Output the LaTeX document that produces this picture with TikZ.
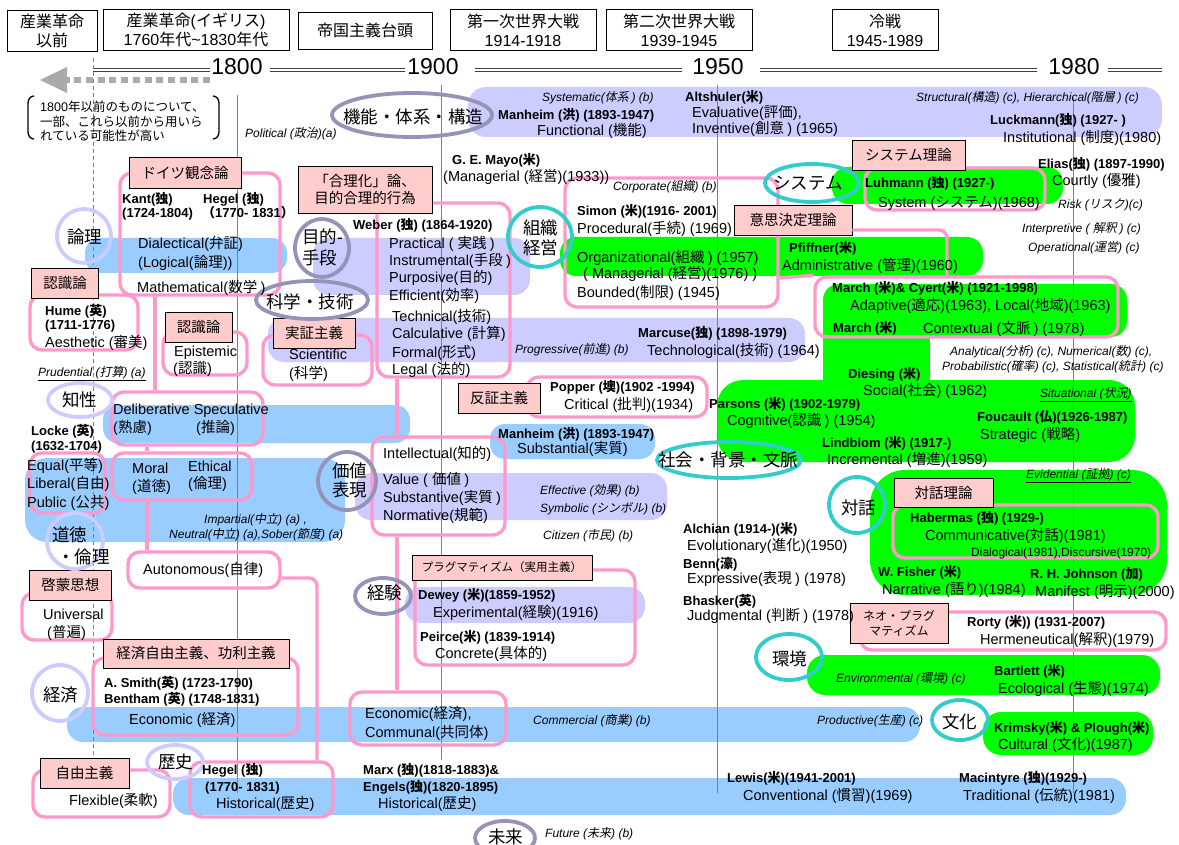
\documentclass[tikz,border=0pt]{standalone}
\usepackage{fontspec}
\setmainfont{Liberation Sans}
\newfontfamily\latinfam{Liberation Sans}
\newfontfamily\cjkfam{Noto Sans CJK JP}[ItalicFont={Noto Sans CJK JP},ItalicFeatures={FakeSlant=0.2}]
\XeTeXinterchartokenstate=1
\newXeTeXintercharclass\CJKcls
\newcount\cjkc
\newcommand\setcjkrange[2]{\cjkc=#1\relax\loop\XeTeXcharclass\cjkc=\CJKcls\relax\ifnum\cjkc<#2\relax\advance\cjkc by 1\relax\repeat}
\setcjkrange{"3000}{"30FF}
\setcjkrange{"4E00}{"9FFF}
\setcjkrange{"FF00}{"FFEF}
\XeTeXinterchartoks 0 \CJKcls = {\cjkfam}
\XeTeXinterchartoks 4095 \CJKcls = {\cjkfam}
\XeTeXinterchartoks \CJKcls 0 = {\latinfam}
\XeTeXinterchartoks 4095 0 = {\latinfam}

\definecolor{lav}{HTML}{CCCCFF}
\definecolor{lblue}{HTML}{99CCFF}
\definecolor{grn}{HTML}{00FF00}
\definecolor{pnk}{HTML}{FF99CC}
\definecolor{lpnk}{HTML}{FFCCCC}
\definecolor{ringA}{HTML}{CCCCFF}
\definecolor{ringB}{HTML}{9494B8}
\definecolor{ringC}{HTML}{33CCCC}
\definecolor{vgray}{HTML}{808080}
\definecolor{agray}{HTML}{AAAAAA}

\newcount\txcnt
\newcommand\tx[3]{\global\advance\txcnt by 1\relax\node[#1] (t\the\txcnt) at (#2) {#3};}

\tikzset{
  rg/.style={inner sep=0pt, anchor=base west, font=\fontsize{14.5}{17}\selectfont, yshift=-5.2pt},
  bd/.style={inner sep=0pt, anchor=base west, font=\fontsize{13}{15}\selectfont\bfseries, yshift=-4.7pt},
  it/.style={inner sep=0pt, anchor=base west, font=\fontsize{12}{14}\selectfont\itshape, yshift=-4.3pt},
  sm/.style={inner sep=0pt, anchor=base west, font=\fontsize{12}{14}\selectfont, yshift=-4.3pt},
  nt/.style={inner sep=0pt, anchor=base west, font=\fontsize{12.5}{14}\selectfont, yshift=-4.5pt},
  cl/.style={inner sep=0pt, anchor=base west, font=\fontsize{17.5}{21}\selectfont, yshift=-6.3pt},
  hdr/.style={draw=black, line width=0.8pt, fill=white, inner sep=0pt, align=center, font=\fontsize{16}{19}\selectfont},
  lab/.style={draw=black, line width=0.8pt, fill=lpnk, inner sep=0pt, align=center, font=\fontsize{14.5}{17}\selectfont},
  pb/.style={draw=pnk, line width=3.4pt, rounded corners=12pt, inner sep=0pt},
  pln/.style={draw=pnk, line width=3.4pt, rounded corners=8pt},
  rA/.style={draw=ringA, line width=3.8pt},
  rB/.style={draw=ringB, line width=3.8pt},
  rC/.style={draw=ringC, line width=3.8pt},
  vl/.style={draw=vgray, line width=0.9pt},
  dbl/.style={draw=black!75, double=white, double distance=1.6pt, line width=1pt},
  yr/.style={inner sep=0pt, font=\fontsize{23}{26}\selectfont},
}

\begin{document}
\begin{tikzpicture}[x=1pt,y=-1pt]
\useasboundingbox (0,0) rectangle (1179,845);
\fill[white] (0,0) rectangle (1179,845);

% ---------- bands ----------
\fill[lav, rounded corners=18pt] (468,87) rectangle (1162,137);
\fill[lav, rounded corners=16pt] (313,238) rectangle (530,295);
\fill[lav, rounded corners=16pt] (268,318) rectangle (805,362);
\fill[lav, rounded corners=16pt] (355,473) rectangle (667,520);
\fill[lav, rounded corners=16pt] (405,587) rectangle (645,623);
\fill[lblue, rounded corners=15pt] (85,238) rectangle (287,273);
\fill[lblue, rounded corners=15pt] (103,405) rectangle (410,443);
\fill[lblue, rounded corners=15pt] (490,424) rectangle (655,459);
\fill[lblue, rounded corners=22pt] (25,458) rectangle (345,542);
\fill[lblue, rounded corners=16pt] (67,707) rectangle (920,742);
\fill[lblue, rounded corners=16pt] (173,778) rectangle (1126,815);
\fill[grn, rounded corners=16pt] (832,167) rectangle (1063,204);
\fill[grn, rounded corners=16pt] (560,237) rectangle (983,276);
\fill[grn, rounded corners=16pt] (823,284) rectangle (1127,337);
\fill[grn] (823,300) rectangle (930,395);
\fill[grn, rounded corners=26pt] (717,380) rectangle (1135,462);
\fill[grn, rounded corners=35pt] (870,470) rectangle (1167,595);
\fill[grn, rounded corners=18pt] (807,655) rectangle (1160,695);
\fill[grn, rounded corners=18pt] (983,712) rectangle (1153,755);

% ---------- time axis ----------
\node[yr] (y1800) at (237,67) {1800};
\node[yr] (y1900) at (433,67) {1900};
\node[yr] (y1950) at (718,67) {1950};
\node[yr] (y1980) at (1074,67) {1980};
\draw[dbl] (93,70) -- (210,70);
\draw[dbl] (270,70) -- (405,70);
\draw[dbl] (475,70) -- (682,70);
\draw[dbl] (760,70) -- (1037,70);
\draw[dbl] (1108,70) -- (1162,70);
\draw[agray, line width=6.5pt, dash pattern=on 7pt off 4.7pt] (210,80) -- (66,80);
\fill[agray] (40,80) -- (67,67) -- (67,93) -- cycle;

\draw[vgray, line width=0.8pt, dash pattern=on 4pt off 3pt] (93,58) -- (93,757);
\draw[vl] (237,95) -- (237,793);
\draw[vl] (441,85) -- (441,760);
\draw[vl] (717,85) -- (717,793);
\draw[vl] (1073,98) -- (1073,793);

% ---------- headers ----------
\node[hdr, minimum width=90pt, minimum height=41pt] (h1) at (52,31) {産業革命\\以前};
\node[hdr, minimum width=186pt, minimum height=41pt] (h2) at (196,30) {産業革命(イギリス)\\1760年代\textasciitilde 1830年代};
\node[hdr, minimum width=134pt, minimum height=37pt] (h3) at (365,30.5) {帝国主義台頭};
\node[hdr, minimum width=146pt, minimum height=41pt] (h4) at (523,30) {第一次世界大戦\\1914-1918};
\node[hdr, minimum width=146pt, minimum height=41pt] (h5) at (679,30) {第二次世界大戦\\1939-1945};
\node[hdr, minimum width=106pt, minimum height=41pt] (h6) at (885,30) {冷戦\\1945-1989};

% note with brackets
\draw[line width=1.3pt] (34,96) to[out=180,in=90] (28,103) -- (28,132) to[out=-90,in=180] (34,139);
\draw[line width=1.3pt] (213,96) to[out=0,in=90] (219,103) -- (219,132) to[out=-90,in=0] (213,139);
\tx{nt}{40,107}{1800年以前のものについて、}
\tx{nt}{40,122}{一部、これら以前から用いら}
\tx{nt}{40,136}{れている可能性が高い}

% ---------- pink boxes ----------
\node[pb, minimum width=160pt, minimum height=122pt] (gbox) at (200,234) {};
\node[pb, minimum width=108pt, minimum height=55pt] (humebox) at (84,322.5) {};
\node[pb, minimum width=84pt, minimum height=43pt] (epibox) at (205,353.5) {};
\node[pb, minimum width=109pt, minimum height=50pt] (scibox) at (317.5,360) {};
\node[pb, minimum width=133pt, minimum height=174pt] (wbox) at (443.5,290) {};
\node[pb, minimum width=133pt, minimum height=98pt] (ibox) at (438.5,486) {};
\node[pb, minimum width=151pt, minimum height=53pt] (dbox) at (187.5,418.5) {};
\node[pb, minimum width=140pt, minimum height=47pt] (mbox) at (182,476.5) {};
\node[pb, minimum width=75pt, minimum height=60pt] (lkbox) at (67.5,483) {};
\node[pb, minimum width=152pt, minimum height=36pt] (abox) at (204,570) {};
\node[pb, minimum width=90pt, minimum height=47pt] (ubox) at (67,616.5) {};
\node[pb, minimum width=205pt, minimum height=77pt] (ecobox) at (195.5,696.5) {};
\node[pb, minimum width=137pt, minimum height=47pt] (flexbox) at (101.5,793.5) {};
\node[pb, minimum width=143pt, minimum height=55pt] (hbox) at (261.5,789.5) {};
\node[pb, minimum width=156pt, minimum height=53pt] (ecbox) at (428,718.5) {};
\node[pb, minimum width=220pt, minimum height=95pt] (pbox) at (525,617.5) {};
\node[pb, minimum width=180pt, minimum height=40pt] (popbox) at (617,397) {};
\node[pb, minimum width=213pt, minimum height=129pt] (sbox) at (671.5,242.5) {};
\node[pb, minimum width=303pt, minimum height=60pt] (mcbox) at (966.5,307) {};
\node[pb, minimum width=180pt, minimum height=42pt] (lubox) at (955,189) {};
\node[pb, minimum width=265pt, minimum height=53pt] (habbox) at (1025.5,531.5) {};
\node[pb, minimum width=306pt, minimum height=38pt] (rbox) at (1013,631) {};

\coordinate (x155) at (155,0);
\coordinate (x147) at (147,0);
\coordinate (x317) at (317,0);
\coordinate (x397) at (397,0);
\coordinate (x947) at (947,0);
\coordinate (y578) at (0,578);
\coordinate (y230) at (0,230);
\coordinate (y278) at (0,278);
\draw[pln] (x155 |- gbox.south) -- (x155 |- dbox.north);
\draw[pln] (x147 |- dbox.south) -- (x147 |- mbox.north);
\draw[pln] (x147 |- mbox.south) -- (x147 |- abox.north);
\draw[pln] (abox.east |- y578) -| (x317 |- hbox.north);
\draw[pln] (x397 |- wbox.south) -- (x397 |- ibox.north);
\draw[pln] (x397 |- ibox.south) -- (x397 |- ecbox.north);

% ---------- labels ----------
\node[lab, minimum width=112pt, minimum height=31pt] (lgerm) at (185,172.5) {ドイツ観念論};
\node[lab, minimum width=134pt, minimum height=47pt] (lrat) at (365,189.5) {「合理化」論、\\目的合理的行為};
\node[lab, minimum width=113pt, minimum height=30pt] (lsys) at (908.5,155) {システム理論};
\node[lab, minimum width=118pt, minimum height=30pt] (ldec) at (793,220) {意思決定理論};
\draw[pln] (ldec.east |- y230) -| (x947 |- mcbox.north);
\draw[pln] (sbox.east |- y278) -- (mcbox.north west);
\node[lab, minimum width=67pt, minimum height=30pt] (lepi1) at (65,283) {認識論};
\node[lab, minimum width=67pt, minimum height=30pt] (lepi2) at (198.5,327) {認識論};
\node[lab, minimum width=82pt, minimum height=30pt] (lpos) at (314,333) {実証主義};
\node[lab, minimum width=82pt, minimum height=30pt] (lfal) at (499,398) {反証主義};
\node[lab, minimum width=99pt, minimum height=29pt] (ldia) at (943.5,492.5) {対話理論};
\node[lab, font=\fontsize{11.5}{13}\selectfont, minimum width=180pt, minimum height=25pt] (lprag) at (502,567.5) {プラグマティズム（実用主義）};
\node[lab, font=\fontsize{12}{15}\selectfont, minimum width=98pt, minimum height=40pt] (lneo) at (899,623) {ネオ・プラグ\\マティズム};
\node[lab, minimum width=82pt, minimum height=30pt] (lenl) at (70.5,585) {啓蒙思想};
\node[lab, minimum width=186pt, minimum height=29pt] (lecon) at (196,653.5) {経済自由主義、功利主義};
\node[lab, minimum width=89pt, minimum height=30pt] (llib) at (84.5,773) {自由主義};

% ---------- rings ----------
\draw[rA] (84,236) ellipse [x radius=27pt, y radius=27pt];
\draw[rA] (80,400) ellipse [x radius=32pt, y radius=17pt];
\draw[rA] (75,541) ellipse [x radius=28pt, y radius=28pt];
\draw[rA] (60,693) ellipse [x radius=28pt, y radius=28pt];
\draw[rA] (175,762) ellipse [x radius=28pt, y radius=17pt];
\draw[rB] (412,115) ellipse [x radius=80pt, y radius=22pt];
\draw[rB] (322,248) ellipse [x radius=27pt, y radius=29pt];
\draw[rB] (312,300) ellipse [x radius=56pt, y radius=19pt];
\draw[rB] (347,481) ellipse [x radius=29pt, y radius=29pt];
\draw[rB] (383,596) ellipse [x radius=28pt, y radius=18pt];
\draw[rB] (505,838) ellipse [x radius=30pt, y radius=17pt];
\draw[rC] (540,237) ellipse [x radius=32pt, y radius=30pt];
\draw[rC] (812,183) ellipse [x radius=47pt, y radius=19pt];
\draw[rC] (729,460) ellipse [x radius=72pt, y radius=18pt];
\draw[rC] (857,505) ellipse [x radius=28pt, y radius=28pt];
\draw[rC] (789,657) ellipse [x radius=33pt, y radius=23pt];
\draw[rC] (960,720) ellipse [x radius=28pt, y radius=20pt];

\tx{cl}{67,237}{論理}
\tx{cl}{62,400}{知性}
\tx{cl}{52,535}{道徳}
\tx{cl}{57,557}{・倫理}
\tx{cl}{43,695}{経済}
\tx{cl}{158,762}{歴史}
\tx{cl}{343,117}{機能・体系・構造}
\tx{cl}{302,237}{目的-}
\tx{cl}{302,258}{手段}
\tx{cl}{266,302}{科学・技術}
\tx{cl}{332,471}{価値}
\tx{cl}{332,490}{表現}
\tx{cl}{367,593}{経験}
\tx{cl}{488,837}{未来}
\tx{cl}{523,228}{組織}
\tx{cl}{523,248}{経営}
\tx{cl}{773,183}{システム}
\tx{cl}{658,460}{社会・背景・文脈}
\tx{cl}{841,508}{対話}
\tx{cl}{772,659}{環境}
\tx{cl}{942,722}{文化}

% ---------- texts ----------
\tx{it}{245,133}{Political (政治)(a)}
\tx{it}{542,97}{Systematic(体系 ) (b)}
\tx{bd}{498,115}{Manheim (洪) (1893-1947)}
\tx{rg}{537,130}{Functional (機能)}
\tx{bd}{685,97}{Altshuler(米)}
\tx{rg}{692,112}{Evaluative(評価),}
\tx{rg}{692,128}{Inventive(創意 ) (1965)}
\tx{it}{916,97}{Structural(構造) (c), Hierarchical(階層 ) (c)}
\tx{bd}{990,120}{Luckmann(独) (1927- )}
\tx{rg}{1003,137}{Institutional (制度)(1980)}
\tx{bd}{452,160}{G. E. Mayo(米)}
\tx{rg}{443,176}{(Managerial (経営)(1933))}
\tx{bd}{1038,164}{Elias(独) (1897-1990)}
\tx{rg}{1052,180}{Courtly (優雅)}
\tx{it}{1058,204}{Risk (リスク)(c)}
\tx{it}{1022,228}{Interpretive ( 解釈 ) (c)}
\tx{it}{1028,247}{Operational(運営) (c)}
\tx{it}{613,186}{Corporate(組織) (b)}
\tx{bd}{577,211}{Simon (米)(1916- 2001)}
\tx{rg}{577,228}{Procedural(手続) (1969)}
\tx{rg}{577,257}{Organizational(組織 ) (1957)}
\tx{rg}{583,273}{( Managerial (経営)(1976) )}
\tx{rg}{577,292}{Bounded(制限) (1945)}
\tx{bd}{789,248}{Pfiffner(米)}
\tx{rg}{782,265}{Administrative (管理)(1960)}
\tx{bd}{865,183}{Luhmann (独) (1927-)}
\tx{rg}{878,202}{System (システム)(1968)}
\tx{bd}{832,288}{March (米)\& Cyert(米) (1921-1998)}
\tx{rg}{850,305}{Adaptive(適応)(1963), Local(地域)(1963)}
\tx{bd}{833,328}{March (米)}
\tx{rg}{923,328}{Contextual (文脈 ) (1978)}
\tx{it}{950,351}{Analytical(分析) (c), Numerical(数) (c),}
\tx{it}{942,366}{Probabilistic(確率) (c), Statistical(統計) (c)}
\tx{bd}{848,374}{Diesing (米)}
\tx{rg}{863,390}{Social(社会) (1962)}
\tx{it}{1040,393}{\underline{Situational (状況)}}
\tx{bd}{638,333}{Marcuse(独) (1898-1979)}
\tx{it}{515,349}{Progressive(前進) (b)}
\tx{rg}{647,350}{Technological(技術) (1964)}
\tx{bd}{550,387}{Popper (墺)(1902 -1994)}
\tx{rg}{564,404}{Critical (批判)(1934)}
\tx{bd}{709,404}{Parsons (米) (1902-1979)}
\tx{rg}{727,420}{Cognitive(認識 ) (1954)}
\tx{bd}{977,417}{Foucault (仏)(1926-1987)}
\tx{rg}{980,434}{Strategic (戦略)}
\tx{bd}{822,443}{Lindblom (米) (1917-)}
\tx{rg}{827,459}{Incremental (増進)(1959)}
\tx{bd}{498,434}{Manheim (洪) (1893-1947)}
\tx{rg}{517,448}{Substantial(実質)}
\tx{it}{1026,474}{\underline{Evidential (証拠) (c)}}
\tx{it}{540,490}{Effective (効果) (b)}
\tx{it}{540,508}{Symbolic (シンボル) (b)}
\tx{it}{543,535}{Citizen (市民) (b)}
\tx{bd}{683,529}{Alchian (1914-)(米)}
\tx{rg}{687,545}{Evolutionary(進化)(1950)}
\tx{bd}{683,564}{Benn(濠)}
\tx{rg}{687,578}{Expressive(表現 ) (1978)}
\tx{bd}{683,601}{Bhasker(英)}
\tx{rg}{687,615}{Judgmental (判断 ) (1978)}
\tx{bd}{910,518}{Habermas (独) (1929-)}
\tx{rg}{925,535}{Communicative(対話)(1981)}
\tx{sm}{971,552}{Dialogical(1981),Discursive(1970)}
\tx{bd}{878,572}{W. Fisher (米)}
\tx{rg}{882,589}{Narrative (語り)(1984)}
\tx{bd}{1030,574}{R. H. Johnson (加)}
\tx{rg}{1035,591}{Manifest (明示)(2000)}
\tx{bd}{967,622}{Rorty (米)) (1931-2007)}
\tx{rg}{980,639}{Hermeneutical(解釈)(1979)}
\tx{it}{836,678}{Environmental (環境) (c)}
\tx{bd}{994,671}{Bartlett (米)}
\tx{rg}{998,688}{Ecological (生態)(1974)}
\tx{it}{817,720}{Productive(生産) (c)}
\tx{it}{533,720}{Commercial (商業) (b)}
\tx{bd}{994,728}{Krimsky(米) \& Plough(米)}
\tx{rg}{998,744}{Cultural (文化)(1987)}
\tx{bd}{727,778}{Lewis(米)(1941-2001)}
\tx{rg}{743,795}{Conventional (慣習)(1969)}
\tx{bd}{959,778}{Macintyre (独)(1929-)}
\tx{rg}{963,795}{Traditional (伝統)(1981)}
\tx{it}{545,833}{Future (未来) (b)}
\tx{bd}{363,770}{Marx (独)(1818-1883)\&}
\tx{bd}{363,787}{Engels(独)(1820-1895)}
\tx{rg}{378,803}{Historical(歴史)}
\tx{rg}{365,713}{Economic(経済),}
\tx{rg}{365,732}{Communal(共同体)}
\tx{bd}{418,595}{Dewey (米)(1859-1952)}
\tx{rg}{433,612}{Experimental(経験)(1916)}
\tx{bd}{420,637}{Peirce(米) (1839-1914)}
\tx{rg}{435,653}{Concrete(具体的)}
\tx{bd}{202,770}{Hegel (独)}
\tx{bd}{205,787}{(1770- 1831)}
\tx{rg}{216,803}{Historical(歴史)}
\tx{rg}{69,800}{Flexible(柔軟)}
\tx{bd}{104,683}{A. Smith(英) (1723-1790)}
\tx{bd}{104,699}{Bentham (英) (1748-1831)}
\tx{rg}{129,719}{Economic (経済)}
\tx{rg}{43,614}{Universal}
\tx{rg}{47,632}{(普遍)}
\tx{rg}{143,569}{Autonomous(自律)}
\tx{it}{204,519}{Impartial(中立) (a) ,}
\tx{it}{169,534}{Neutral(中立) (a),Sober(節度) (a)}
\tx{rg}{132,468}{Moral}
\tx{rg}{132,486}{(道徳)}
\tx{rg}{188,466}{Ethical}
\tx{rg}{188,483}{(倫理)}
\tx{rg}{27,465}{Equal(平等)}
\tx{rg}{27,483}{Liberal(自由)}
\tx{rg}{27,502}{Public (公共)}
\tx{bd}{31,431}{Locke (英)}
\tx{bd}{31,446}{(1632-1704)}
\tx{rg}{113,409}{Deliberative Speculative}
\tx{rg}{113,427}{(熟慮)}
\tx{rg}{196,427}{(推論)}
\tx{it}{38,372}{\underline{Prudential (打算) (a)}}
\tx{bd}{45,311}{Hume (英)}
\tx{bd}{45,325}{(1711-1776)}
\tx{rg}{45,342}{Aesthetic (審美)}
\tx{rg}{174,351}{Epistemic}
\tx{rg}{173,368}{(認識)}
\tx{rg}{289,354}{Scientific}
\tx{rg}{289,373}{(科学)}
\tx{rg}{137,287}{Mathematical(数学 )}
\tx{bd}{122,199}{Kant(独)}
\tx{bd}{203,199}{Hegel (独)}
\tx{bd}{122,213}{(1724-1804)}
\tx{bd}{202,213}{（1770- 1831）}
\tx{rg}{138,243}{Dialectical(弁証)}
\tx{rg}{138,262}{(Logical(論理))}
\tx{bd}{353,225}{Weber (独) (1864-1920)}
\tx{rg}{389,243}{Practical ( 実践 )}
\tx{rg}{389,260}{Instrumental(手段 )}
\tx{rg}{389,277}{Purposive(目的)}
\tx{rg}{389,295}{Efficient(効率)}
\tx{rg}{392,316}{Technical(技術)}
\tx{rg}{392,333}{Calculative (計算)}
\tx{rg}{392,352}{Formal(形式)}
\tx{rg}{392,369}{Legal (法的)}
\tx{rg}{383,453}{Intellectual(知的)}
\tx{rg}{383,479}{Value ( 価値 )}
\tx{rg}{383,497}{Substantive(実質 )}
\tx{rg}{383,515}{Normative(規範)}
\end{tikzpicture}
\end{document}
